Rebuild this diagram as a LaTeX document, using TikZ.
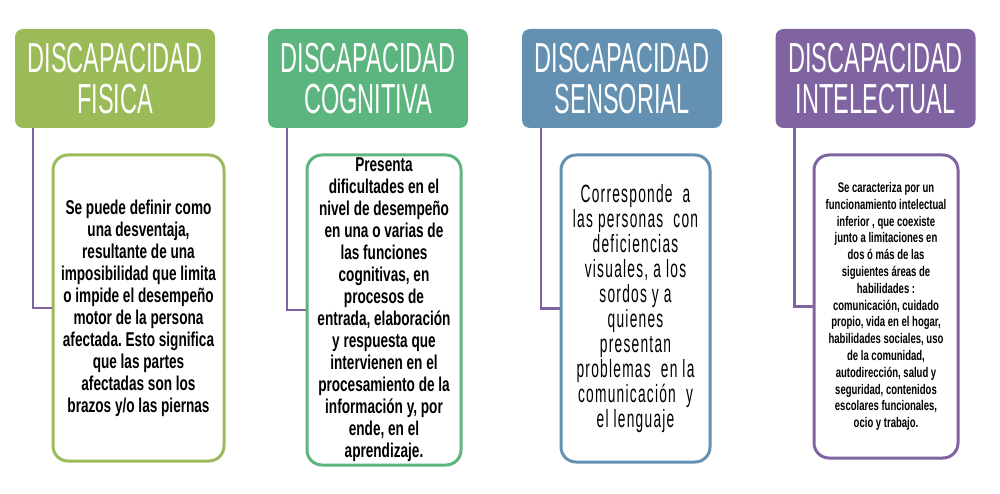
\documentclass[tikz,border=0pt]{standalone}
\usepackage{fontspec}
\setmainfont{Liberation Sans}
\newfontfamily\headfont[FakeStretch=0.56]{Liberation Sans}
\newfontfamily\boldfont[FakeStretch=0.68]{Liberation Sans}
\newfontfamily\sensefont[FakeStretch=0.55,LetterSpace=5]{Liberation Sans}
\definecolor{olive}{HTML}{9BBB59}
\definecolor{leaf}{HTML}{5CB47E}
\definecolor{steel}{HTML}{6490B1}
\definecolor{plum}{HTML}{8064A2}
\frenchspacing
\begin{document}
\begin{tikzpicture}[x=1pt,y=-1pt,
    head/.style={rounded corners=8pt,minimum width=200pt,minimum height=99pt,inner sep=0pt,
        text=white,align=center,font=\headfont\fontsize{42}{41}\selectfont},
    info/.style={draw,line width=3pt,rounded corners=15pt,fill=white,inner sep=0pt,align=center},
    link/.style={line width=2.5pt,plum}]
    \useasboundingbox (0,0) rectangle (1000,494);
    % titles
    \node[head,fill=olive] (fisica) at (115,78.5) {DISCAPACIDAD\\FISICA};
    \node[head,fill=leaf] (cognitiva) at (368,78.5) {DISCAPACIDAD\\COGNITIVA};
    \node[head,fill=steel] (sensorial) at (622,78.5) {DISCAPACIDAD\\SENSORIAL};
    \node[head,fill=plum] (intelectual) at (875.5,78.5) {DISCAPACIDAD\\INTELECTUAL};
    % descriptions
    \node[info,draw=olive,minimum width=171pt,minimum height=306pt,font=\boldfont\bfseries\fontsize{20}{22}\selectfont] (fisicaTxt) at (138.5,308) {Se puede definir como\\una desventaja,\\resultante de una\\imposibilidad que limita\\o impide el desempeño\\motor de la persona\\afectada. Esto significa\\que las partes\\afectadas son los\\brazos y/o las piernas};
    \node[info,draw=leaf,minimum width=154pt,minimum height=310pt,font=\boldfont\bfseries\fontsize{20}{22}\selectfont] (cognitivaTxt) at (384,310) {Presenta\\dificultades en el\\nivel de desempeño\\en una o varias de\\las funciones\\cognitivas, en\\procesos de\\entrada, elaboración\\y respuesta que\\intervienen en el\\procesamiento de la\\información y, por\\ende, en el\\aprendizaje.};
    \node[info,draw=steel,minimum width=149pt,minimum height=307pt,font=\sensefont\fontsize{25}{25}\selectfont] (sensorialTxt) at (635.5,308.5) {Corresponde\ \ a\\las personas\ \ con\\deficiencias\\visuales, a los\\sordos y a\\quienes\\presentan\\problemas\ \ en la\\comunicación\ \ y\\el lenguaje};
    \node[info,draw=plum,minimum width=144pt,minimum height=303pt,font=\boldfont\bfseries\fontsize{14}{16.8}\selectfont] (intelectualTxt) at (886,306.5) {Se caracteriza por un\\funcionamiento intelectual\\inferior , que coexiste\\junto a limitaciones en\\dos ó más de las\\siguientes áreas de\\habilidades :\\comunicación, cuidado\\propio, vida en el hogar,\\habilidades sociales, uso\\de la comunidad,\\autodirección, salud y\\seguridad, contenidos\\escolares funcionales,\\ocio y trabajo.};
    % links
    \draw[link] ([xshift=18pt]fisica.south west) |- (fisicaTxt.west);
    \draw[link] ([xshift=19pt]cognitiva.south west) |- (cognitivaTxt.west);
    \draw[link] ([xshift=19pt]sensorial.south west) |- (sensorialTxt.west);
    \draw[link] ([xshift=19pt]intelectual.south west) |- (intelectualTxt.west);
\end{tikzpicture}
\end{document}
